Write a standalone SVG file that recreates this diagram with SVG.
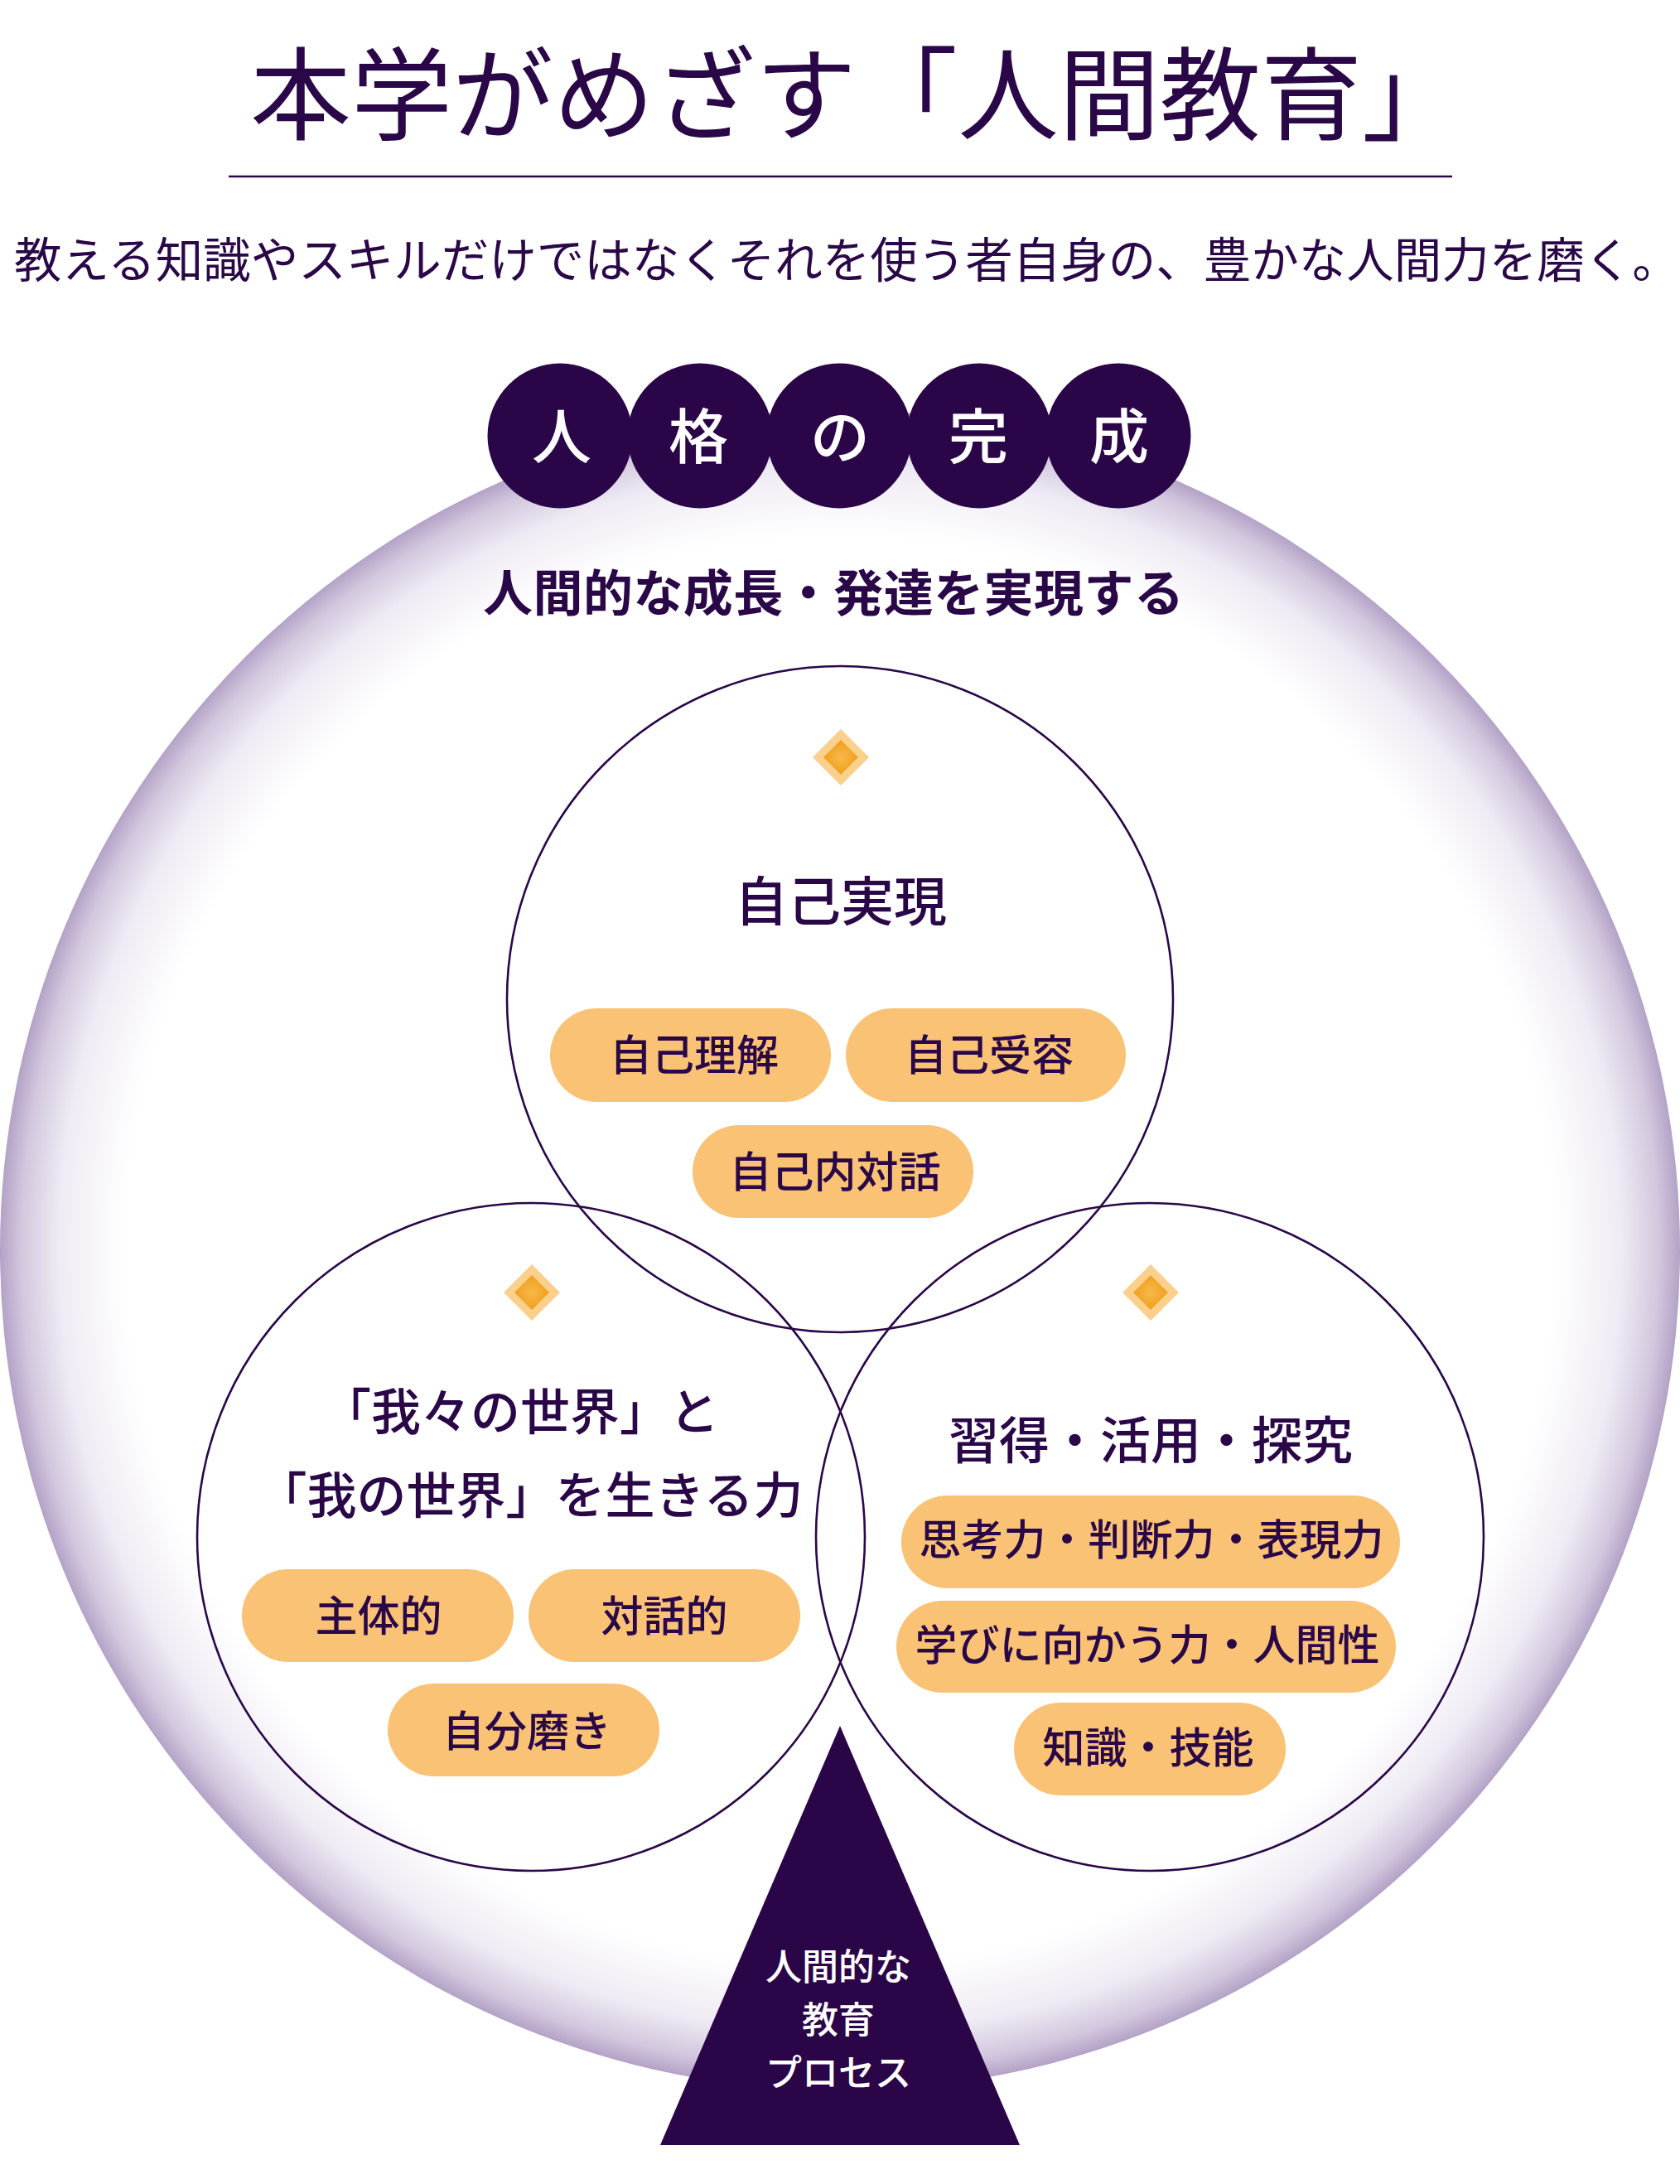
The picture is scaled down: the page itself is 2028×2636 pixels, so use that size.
<svg xmlns="http://www.w3.org/2000/svg" width="2028" height="2636" viewBox="0 0 2028 2636">
<defs>
<style>
.jp{font-family:"Noto Sans CJK JP","Noto Sans CJK SC",sans-serif;}
.dk{fill:#2a0848;}
.wh{fill:#ffffff;}
.ring{fill:none;stroke:#2a0848;stroke-width:2.6;}
.pill{fill:#f9c274;}
.ball{fill:#2a0648;}
.dout{fill:#fbd08c;}
.din{fill:url(#dg);}
.pt{font-size:51px;font-weight:500;text-anchor:middle;}
.hd{font-weight:500;text-anchor:middle;}
</style>
<radialGradient id="bg" cx="1014" cy="1509" r="1014" gradientUnits="userSpaceOnUse">
<stop offset="0" stop-color="#ffffff"/>
<stop offset="0.85" stop-color="#ffffff"/>
<stop offset="0.93" stop-color="#efebf4"/>
<stop offset="0.975" stop-color="#d2c7de"/>
<stop offset="1" stop-color="#b3a2c6"/>
</radialGradient>
<radialGradient id="dg" cx="0.5" cy="0.5" r="0.6">
<stop offset="0" stop-color="#f7b94a"/>
<stop offset="1" stop-color="#ee9a12"/>
</radialGradient>
</defs>
<rect x="0" y="0" width="2028" height="2636" fill="#ffffff"/>

<g id="title">
<text class="jp dk" x="302" y="159" font-size="122" font-weight="400">本学がめざす「人間教育」</text>
<line x1="276" y1="213" x2="1753" y2="213" stroke="#2a0848" stroke-width="2.5"/>
<text class="jp dk" x="17" y="335" font-size="57.5" font-weight="400">教える知識やスキルだけではなくそれを使う者自身の、豊かな人間力を磨く。</text>
</g>

<g id="outer-circle">
<circle cx="1014" cy="1509" r="1014" fill="url(#bg)"/>
</g>

<g id="jinkaku">
<circle class="ball" cx="676" cy="526" r="87.5"/>
<circle class="ball" cx="845" cy="526" r="87.5"/>
<circle class="ball" cx="1013" cy="526" r="87.5"/>
<circle class="ball" cx="1182" cy="526" r="87.5"/>
<circle class="ball" cx="1350" cy="526" r="87.5"/>
<text class="jp wh hd" x="678" y="553" font-size="72" font-weight="400">人</text>
<text class="jp wh hd" x="843" y="553" font-size="72" font-weight="400">格</text>
<text class="jp wh hd" x="1014" y="553" font-size="72" font-weight="400">の</text>
<text class="jp wh hd" x="1181" y="553" font-size="72" font-weight="400">完</text>
<text class="jp wh hd" x="1351" y="553" font-size="72" font-weight="400">成</text>
</g>

<g id="growth">
<text class="jp dk" x="1006" y="738" font-size="60" font-weight="700" text-anchor="middle" textLength="846" lengthAdjust="spacing">人間的な成長・発達を実現する</text>
</g>

<g id="self-realization">
<circle class="ring" cx="1014" cy="1206" r="402"/>
<polygon class="dout" points="1015,880 1049,914 1015,948 981,914"/>
<polygon class="din" points="1015,893 1036,914 1015,935 994,914"/>
<text class="jp dk hd" x="1015" y="1111" font-size="64">自己実現</text>
<rect class="pill" x="664" y="1217" width="339" height="113" rx="56.5"/>
<text class="jp dk pt" x="838" y="1292">自己理解</text>
<rect class="pill" x="1021" y="1217" width="338" height="113" rx="56.5"/>
<text class="jp dk pt" x="1194" y="1292">自己受容</text>
<rect class="pill" x="836" y="1358" width="339" height="112" rx="56"/>
<text class="jp dk pt" x="1008" y="1433">自己内対話</text>
</g>

<g id="worlds">
<circle class="ring" cx="641" cy="1855" r="403"/>
<polygon class="dout" points="642,1526 676,1560 642,1594 608,1560"/>
<polygon class="din" points="642,1539 663,1560 642,1581 621,1560"/>
<text class="jp dk hd" x="628" y="1726" font-size="60">「我々の世界」と</text>
<text class="jp dk hd" x="640" y="1827" font-size="60">「我の世界」を生きる力</text>
<rect class="pill" x="292" y="1894" width="328" height="112" rx="56"/>
<text class="jp dk pt" x="457" y="1969">主体的</text>
<rect class="pill" x="638" y="1894" width="328" height="112" rx="56"/>
<text class="jp dk pt" x="802" y="1969">対話的</text>
<rect class="pill" x="468" y="2032" width="328" height="112" rx="56"/>
<text class="jp dk pt" x="636" y="2108">自分磨き</text>
</g>

<g id="learning">
<circle class="ring" cx="1388" cy="1855" r="403"/>
<polygon class="dout" points="1389,1526 1423,1560 1389,1594 1355,1560"/>
<polygon class="din" points="1389,1539 1410,1560 1389,1581 1368,1560"/>
<text class="jp dk hd" x="1389" y="1761" font-size="61">習得・活用・探究</text>
<rect class="pill" x="1088" y="1805" width="602" height="112" rx="56"/>
<text class="jp dk pt" x="1390" y="1877">思考力・判断力・表現力</text>
<rect class="pill" x="1082" y="1932" width="603" height="111" rx="55.5"/>
<text class="jp dk pt" x="1385" y="2004">学びに向かう力・人間性</text>
<rect class="pill" x="1224" y="2055" width="328" height="112" rx="56"/>
<text class="jp dk pt" x="1386" y="2128">知識・技能</text>
</g>

<g id="process">
<polygon class="ball" points="1014,2083 1231,2589 797,2589"/>
<text class="jp wh hd" x="1012" y="2390" font-size="44" font-weight="400">人間的な</text>
<text class="jp wh hd" x="1012" y="2454" font-size="44" font-weight="400">教育</text>
<text class="jp wh hd" x="1012" y="2518" font-size="44" font-weight="400">プロセス</text>
</g>

<g id="connectors"></g>
</svg>
